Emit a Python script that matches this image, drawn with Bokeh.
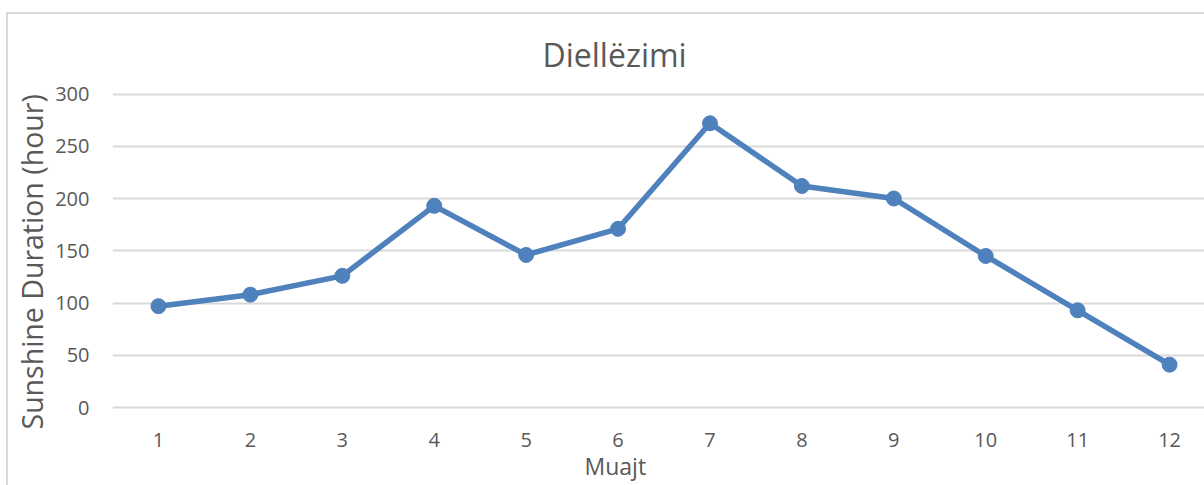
from bokeh.plotting import figure
from bokeh.models import Range1d, FixedTicker, ColumnDataSource, Title
from bokeh.embed import file_html
from bokeh.resources import INLINE

# ---- data ----
months = [1, 2, 3, 4, 5, 6, 7, 8, 9, 10, 11, 12]
sunshine_hours = [97, 108, 126, 193, 146, 171, 272, 212, 200, 145, 93, 41]
y_ticks = [0, 50, 100, 150, 200, 250, 300]
title_text = "Diellëzimi"
x_title = "Muajt"
y_title = "Sunshine Duration (hour)"

FONT = "Open Sans"
TXT = "#595959"
BLUE = "#4f81bd"
GRID = "#d9d9d9"

src = ColumnDataSource(dict(x=months, y=sunshine_hours))

p = figure(width=1196, height=471, output_backend="svg", toolbar_location=None,
           x_range=Range1d(0.5, 12.38), y_range=Range1d(-1.9, 302.4),
           min_border_left=103, min_border_right=0, min_border_top=77,
           min_border_bottom=76)
p.outline_line_color = None
p.background_fill_color = "white"
p.border_fill_color = "white"
# Excel-style chart-area border (light grey, partly outside the window)
p.styles = {"margin-left": "8px", "margin-top": "14px",
            "outline": "2px solid #d9d9d9"}

p.line("x", "y", source=src, line_color=BLUE, line_width=5.5, line_join="round")
p.scatter("x", "y", source=src, size=15, fill_color=BLUE, line_color=BLUE)

# chart title
p.title.text = title_text
p.title.align = "left"
p.title.offset = 430
p.title.text_font = FONT
p.title.text_font_size = "32px"
p.title.text_font_style = "normal"
p.title.text_color = TXT
p.title.standoff = 32

# axes
p.xaxis.ticker = FixedTicker(ticks=months)
p.yaxis.ticker = FixedTicker(ticks=y_ticks)
for ax in (p.xaxis[0], p.yaxis[0]):
    ax.axis_line_color = None
    ax.major_tick_line_color = None
    ax.minor_tick_line_color = None
    ax.major_tick_out = 0
    ax.major_tick_in = 0
    ax.minor_tick_out = 0
    ax.major_label_text_font = FONT
    ax.major_label_text_font_size = "20px"
    ax.major_label_text_color = TXT
p.xaxis.major_label_standoff = 23
p.yaxis.major_label_standoff = 23

# axis titles (placed like Excel: centred on the chart area, not the plot area)
x_axis_title = Title(text=x_title, align="left", offset=472, vertical_align="top",
                     standoff=0, text_font=FONT, text_font_size="23px",
                     text_font_style="normal", text_color=TXT)
p.add_layout(x_axis_title, "below")
y_axis_title = Title(text=y_title, align="left", offset=-20, vertical_align="bottom",
                     standoff=4, text_font=FONT, text_font_size="28.5px",
                     text_font_style="normal", text_color=TXT)
p.add_layout(y_axis_title, "left")

p.xgrid.grid_line_color = None
p.ygrid.grid_line_color = GRID
p.ygrid.grid_line_width = 2

open("out.html", "w").write(file_html(p, INLINE))
